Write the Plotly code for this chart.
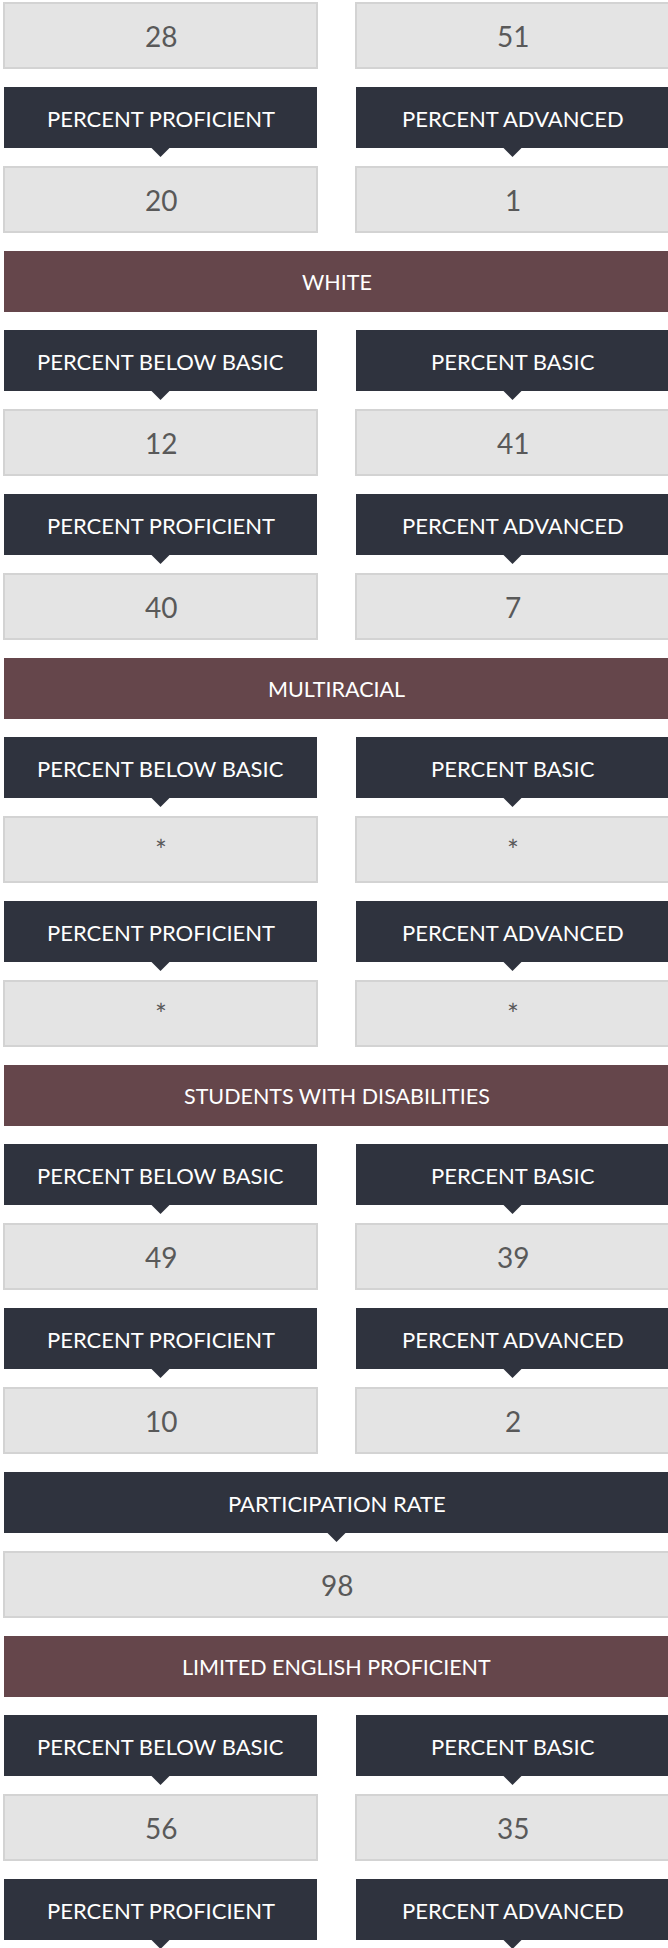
import plotly.graph_objects as go

# --- data -----------------------------------------------------------------
level_labels_a = ["PERCENT BELOW BASIC", "PERCENT BASIC"]
level_labels_b = ["PERCENT PROFICIENT", "PERCENT ADVANCED"]

group_names = ["", "WHITE", "MULTIRACIAL", "STUDENTS WITH DISABILITIES",
               "LIMITED ENGLISH PROFICIENT"]
below_basic = ["28", "12", "*", "49", "56"]
basic = ["51", "41", "*", "39", "35"]
proficient = ["20", "40", "*", "10", ""]
advanced = ["1", "7", "*", "2", ""]

participation_label = "PARTICIPATION RATE"
participation_rate = ["98"]

# --- style ----------------------------------------------------------------
W, H = 668, 1948
DARK = "#2f333e"
MAROON = "#65464b"
BOX_FILL = "#e4e4e4"
BOX_LINE = "#d3d3d3"
VALUE_COLOR = "#595959"
FONT = "Lato"

LEFT = (4, 317)
RIGHT = (356, 669)
FULL = (4, 669)

shapes = []
annotations = []


def label(text, x, y, size, color):
    annotations.append(dict(x=x, y=y, xref="x", yref="y", text=text, showarrow=False,
                            xanchor="center", yanchor="middle",
                            font=dict(family=FONT, size=size, color=color)))


def header(col, y, text):
    x0, x1 = col
    cx = (x0 + x1) / 2
    shapes.append(dict(type="rect", xref="x", yref="y", x0=x0, x1=x1, y0=y, y1=y + 61,
                       fillcolor=DARK, line_width=0, layer="above"))
    # small pointer under each header
    shapes.append(dict(type="path", xref="x", yref="y",
                       path=f"M {cx - 9},{y + 61} L {cx + 9},{y + 61} L {cx},{y + 70} Z",
                       fillcolor=DARK, line_width=0, layer="above"))
    label(text, cx, y + 31, 22, "white")


def value_box(col, y, text):
    x0, x1 = col
    shapes.append(dict(type="rect", xref="x", yref="y", x0=x0, x1=x1, y0=y, y1=y + 65,
                       fillcolor=BOX_FILL, line=dict(color=BOX_LINE, width=2), layer="above"))
    label(text, (x0 + x1) / 2, y + 33, 28, VALUE_COLOR)


def pair_row(y, labels, vals):
    header(LEFT, y, labels[0])
    header(RIGHT, y, labels[1])
    value_box(LEFT, y + 80, vals[0])
    value_box(RIGHT, y + 80, vals[1])
    return y + 164


def band(y, text):
    shapes.append(dict(type="rect", xref="x", yref="y", x0=FULL[0], x1=FULL[1], y0=y, y1=y + 61,
                       fillcolor=MAROON, line_width=0, layer="above"))
    label(text, (FULL[0] + FULL[1]) / 2, y + 31, 21.5, "white")
    return y + 79


y = -77
for i, name in enumerate(group_names):
    if name:
        y = band(y, name)
    y = pair_row(y, level_labels_a, [below_basic[i], basic[i]])
    y = pair_row(y, level_labels_b, [proficient[i], advanced[i]])
    if name == "STUDENTS WITH DISABILITIES":
        header(FULL, y, participation_label)
        value_box(FULL, y + 80, participation_rate[0])
        y += 164

fig = go.Figure()
fig.add_trace(go.Scatter(x=[0], y=[0], mode="markers", marker=dict(opacity=0),
                         hoverinfo="skip", showlegend=False))
fig.update_layout(
    width=W, height=H,
    margin=dict(l=0, r=0, t=0, b=0),
    paper_bgcolor="white", plot_bgcolor="white",
    shapes=shapes, annotations=annotations,
    xaxis=dict(range=[0, W], visible=False, fixedrange=True),
    yaxis=dict(range=[H, 0], visible=False, fixedrange=True),
    showlegend=False,
)

fig.write_html("out.html", config={"displayModeBar": False},
               post_script="document.body.style.margin='0';document.body.style.overflow='hidden';")
